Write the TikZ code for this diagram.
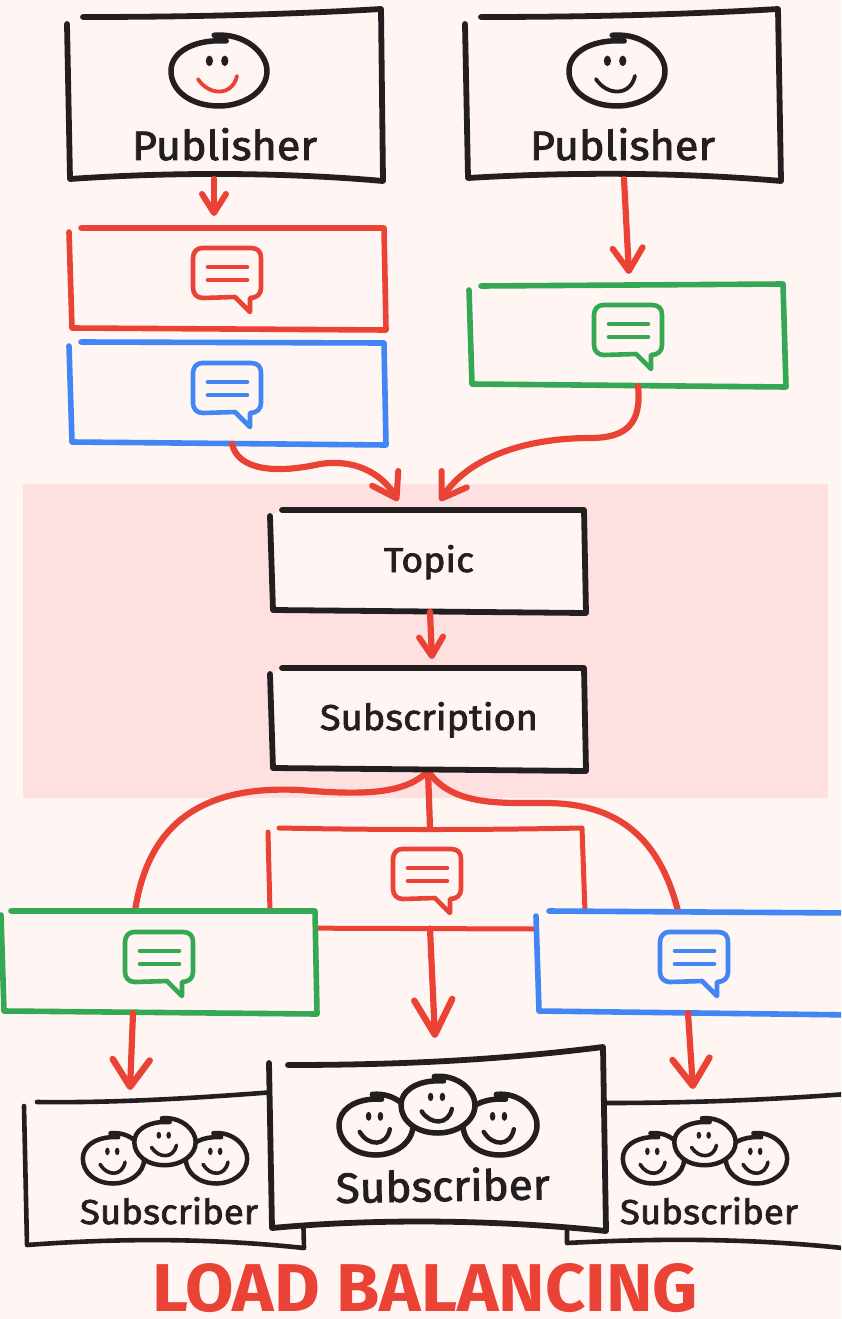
\documentclass[tikz,border=0pt]{standalone}
\usepackage{fontspec}
\usepackage{graphicx}
\setmainfont[FakeBold=2]{Fira Sans}
\usetikzlibrary{arrows.meta}
\definecolor{pagebg}{HTML}{FFF5F3}
\definecolor{bandpink}{HTML}{FDE0DF}
\definecolor{inkblack}{HTML}{231F20}
\definecolor{inkred}{HTML}{EA4335}
\definecolor{inkblue}{HTML}{4285F4}
\definecolor{inkgreen}{HTML}{34A853}
\newfontfamily\titlefont{Fira Sans Bold}
\newcommand{\handtext}[3]{\resizebox{#1pt}{#2pt}{#3}}
% box: colour, width, open outline
\newcommand{\handbox}[3]{\path[fill=pagebg] #3 -- cycle; \draw[draw=#1,line width=#2pt,line cap=round,line join=round] #3;}
% speech bubble: colour, left, top
\newcommand{\msgicon}[3]{\begin{scope}[shift={(#2,#3)}]
\draw[draw=#1,line width=4.6pt,line cap=round,line join=round] (9,0) -- (58,0) .. controls (65,0) and (68,4) .. (68,10) -- (68,40) .. controls (68,46) and (64,50) .. (57,50) -- (57,64) -- (42,49) -- (10,50) .. controls (4,50) and (0,46) .. (0,40) -- (0,10) .. controls (0,4) and (4,0) .. (9,0) -- cycle;
\draw[draw=#1,line width=4.6pt,line cap=round] (15,19) -- (54,19) (15,32) -- (54,32);
\end{scope}}
% face: cx, cy, rx, ry, line width, smile colour, smile width
\newcommand{\handface}[7]{\begin{scope}[shift={(#1,#2)},xscale=#3,yscale=#4]
\draw[fill=pagebg,draw=inkblack,line width=#5pt,line cap=round,line join=round] (-0.1,-1.02) .. controls (0.55,-1.1) and (1,-0.5) .. (1,0) .. controls (1,0.6) and (0.5,1) .. (0,1) .. controls (-0.6,1) and (-1,0.55) .. (-1,0) .. controls (-1,-0.5) and (-0.6,-0.82) .. (-0.1,-0.86) -- (0.15,-0.86);
\fill[inkblack] (-0.2,-0.29) ellipse [x radius=0.075,y radius=0.15] (0.12,-0.29) ellipse [x radius=0.075,y radius=0.15];
\draw[draw=#6,line width=#7pt,line cap=round] (-0.44,0.23) .. controls (-0.2,0.72) and (0.28,0.72) .. (0.375,0.14);
\end{scope}}
\newcommand{\threefaces}[4]{\handface{#1-62*#3}{#2+20*#3}{37*#3}{30*#3}{#4}{inkblack}{#4*0.8}\handface{#1+62*#3}{#2+20*#3}{37*#3}{30*#3}{#4}{inkblack}{#4*0.8}\handface{#1}{#2}{37*#3}{28*#3}{#4}{inkblack}{#4*0.8}}
\tikzset{
  plainflow/.style={draw=inkred,line width=6.2pt,line cap=round,line join=round},
  smallflow/.style={plainflow,-{Straight Barb[length=19pt,width=24pt,line width=6pt,round,color=inkred]}},
  bigflow/.style={plainflow,-{Straight Barb[length=23pt,width=30pt,line width=6pt,round,color=inkred]}},
  midflow/.style={plainflow,-{Straight Barb[length=27pt,width=37pt,line width=6.5pt,round,color=inkred]}},
  hugeflow/.style={plainflow,-{Straight Barb[length=35pt,width=38pt,line width=6.5pt,round,color=inkred]}},
  anchorbox/.style={inner sep=0pt,outer sep=0pt},
  handlabel/.style={inner sep=0pt,outer sep=0pt,anchor=base west,text=inkblack,font=\fontsize{30}{30}\selectfont}
}
\begin{document}
\begin{tikzpicture}[x=1pt,y=-1pt]
\useasboundingbox (0,0) rectangle (841,1319);
\clip (0,0) rectangle (841,1319);
\fill[pagebg] (0,0) rectangle (841,1319);
\fill[bandpink] (23,484) rectangle (828,798);
% anchor nodes of the boxes
\node[anchorbox,minimum width=314pt,minimum height=168pt] (pubA) at (225,95) {};
\node[anchorbox,minimum width=314pt,minimum height=168pt] (pubB) at (623,95) {};
\node[anchorbox,minimum width=314pt,minimum height=100pt] (msgRed) at (227,279) {};
\node[anchorbox,minimum width=314pt,minimum height=102pt] (msgBlue) at (227,393) {};
\node[anchorbox,minimum width=314pt,minimum height=102pt] (msgGreen) at (627,335) {};
\node[anchorbox,minimum width=314pt,minimum height=102pt] (topic) at (428,561) {};
\node[anchorbox,minimum width=314pt,minimum height=102pt] (subn) at (428,720) {};
\node[anchorbox,minimum width=314pt,minimum height=101pt] (midRed) at (427,878) {};
\node[anchorbox,minimum width=314pt,minimum height=102pt] (lowGreen) at (159,962) {};
\node[anchorbox,minimum width=314pt,minimum height=102pt] (lowBlue) at (694,962) {};
\node[anchorbox,minimum width=280pt,minimum height=150pt] (subL) at (165,1170) {};
\node[anchorbox,minimum width=336pt,minimum height=180pt] (subC) at (437,1140) {};
\node[anchorbox,minimum width=280pt,minimum height=150pt] (subR) at (705,1170) {};
% connectors below the boxes
\draw[plainflow] (subn.south) .. controls (405,795) and (360,795) .. (300,790) .. controls (200,785) and (148,825) .. ([xshift=-24pt]lowGreen.north);
\draw[plainflow] (subn.south) .. controls (452,806) and (500,803) .. (545,803) .. controls (620,803) and (660,840) .. ([xshift=-16pt]lowBlue.north);
\draw[plainflow] (subn.south) -- ([xshift=3pt]midRed.north);
\draw[draw=inkred,line width=5pt] (270,928) -- (536,929);
% boxes
\draw[draw=inkred,line width=5pt,line cap=round] (268,832) -- (270,912);
\draw[draw=inkred,line width=5pt,line cap=round,line join=round] (279,828) .. controls (380,830) and (480,830) .. (582,828) -- (585,912);
\handbox{inkblack}{5.8}{(83,17) .. controls (180,17) and (280,15) .. (381,9) -- (383,181) .. controls (280,172) and (170,172) .. (70,179) -- (67,24)}
\handbox{inkblack}{5.8}{(481,17) .. controls (578,17) and (678,15) .. (778,9) -- (781,181) .. controls (678,172) and (568,172) .. (468,178) -- (465,24)}
\handbox{inkred}{5.6}{(81,228) -- (384,228) -- (386,330) -- (72,328) -- (69,232)}
\handbox{inkblue}{5.6}{(81,342) -- (384,343) -- (386,445) -- (72,442) -- (69,346)}
\handbox{inkgreen}{5.6}{(481,286) -- (783,284) -- (786,387) -- (472,384) -- (469,290)}
\handbox{inkblack}{5.8}{(282,510) -- (584,510) -- (586,613) -- (273,610) -- (270,516)}
\handbox{inkblack}{5.8}{(282,668) -- (584,668) -- (586,771) -- (273,768) -- (270,674)}
\handbox{inkgreen}{5.6}{(11,911) -- (315,911) -- (317,1014) -- (4,1011) -- (1,915)}
\handbox{inkblue}{5.6}{(549,911) -- (852,913) -- (854,1015) -- (539,1011) -- (536,916)}
% connectors
\draw[smallflow] ([xshift=-11pt]pubA.south) -- ([xshift=-13pt,yshift=13pt]msgRed.north);
\draw[bigflow] ([xshift=1pt]pubB.south) -- ([xshift=2pt,yshift=10pt]msgGreen.north);
\draw[bigflow] ([xshift=5pt]msgBlue.south) .. controls (238,470) and (275,474) .. (320,464) .. controls (360,458) and (385,478) .. ([xshift=-30pt,yshift=9pt]topic.north);
\draw[bigflow] ([xshift=11pt]msgGreen.south) .. controls (642,425) and (625,438) .. (590,438) .. controls (530,438) and (470,455) .. ([xshift=12pt,yshift=9pt]topic.north);
\draw[smallflow] ([xshift=2pt]topic.south) -- ([xshift=4pt,yshift=10pt]subn.north);
\draw[hugeflow] ([xshift=3pt]midRed.south) -- ([xshift=-2pt,yshift=12pt]subC.north);
\draw[midflow] ([xshift=-26pt]lowGreen.south) -- ([xshift=-35pt,yshift=5pt]subL.north);
\draw[midflow] ([xshift=-6pt]lowBlue.south) -- ([xshift=-12pt,yshift=6pt]subR.north);
% subscriber boxes
\handbox{inkblack}{4.6}{(37,1102) .. controls (120,1103) and (200,1098) .. (300,1090) -- (304,1248) .. controls (210,1238) and (120,1238) .. (27,1245) -- (24,1106)}
\handbox{inkblack}{4.6}{(605,1103) .. controls (690,1103) and (770,1100) .. (860,1093) -- (860,1250) .. controls (760,1238) and (660,1238) .. (567,1243) -- (567,1225)}
\handbox{inkblack}{5.8}{(288,1065) .. controls (400,1065) and (500,1060) .. (603,1047) -- (606,1231) .. controls (500,1220) and (380,1218) .. (272,1228) -- (269,1063)}
% icons
\msgicon{inkred}{193}{248}
\msgicon{inkblue}{193}{363}
\msgicon{inkgreen}{594}{305}
\msgicon{inkred}{393}{849}
\msgicon{inkgreen}{125}{932}
\msgicon{inkblue}{660}{932}
% faces
\handface{219}{71}{48}{35}{5.5}{inkred}{3.8}
\handface{617}{71}{48}{35}{5.5}{inkblack}{3.8}
\threefaces{438}{1105}{1}{5.5}
\threefaces{165}{1142}{0.83}{4.5}
\threefaces{705}{1142}{0.83}{4.5}
% labels
\node[handlabel] (lblPubA) at (132,160) {\handtext{185}{32}{Publisher}};
\node[handlabel] (lblPubB) at (530,160) {\handtext{185}{32}{Publisher}};
\node[handlabel] (lblTopic) at (384,572) {\handtext{90}{27}{Topic}};
\node[handlabel] (lblSubn) at (320,730) {\handtext{218}{28}{Subscription}};
\node[handlabel,rotate=1] (lblSubC) at (336,1203) {\handtext{214}{33}{Subscriber}};
\node[handlabel] (lblSubL) at (80,1224) {\handtext{178}{27}{Subscriber}};
\node[handlabel] (lblSubR) at (620,1224) {\handtext{178}{27}{Subscriber}};
\node[handlabel,text=inkred] (lblTitle) at (152,1311) {\handtext{546}{48}{\titlefont LOAD BALANCING}};
\end{tikzpicture}
\end{document}
